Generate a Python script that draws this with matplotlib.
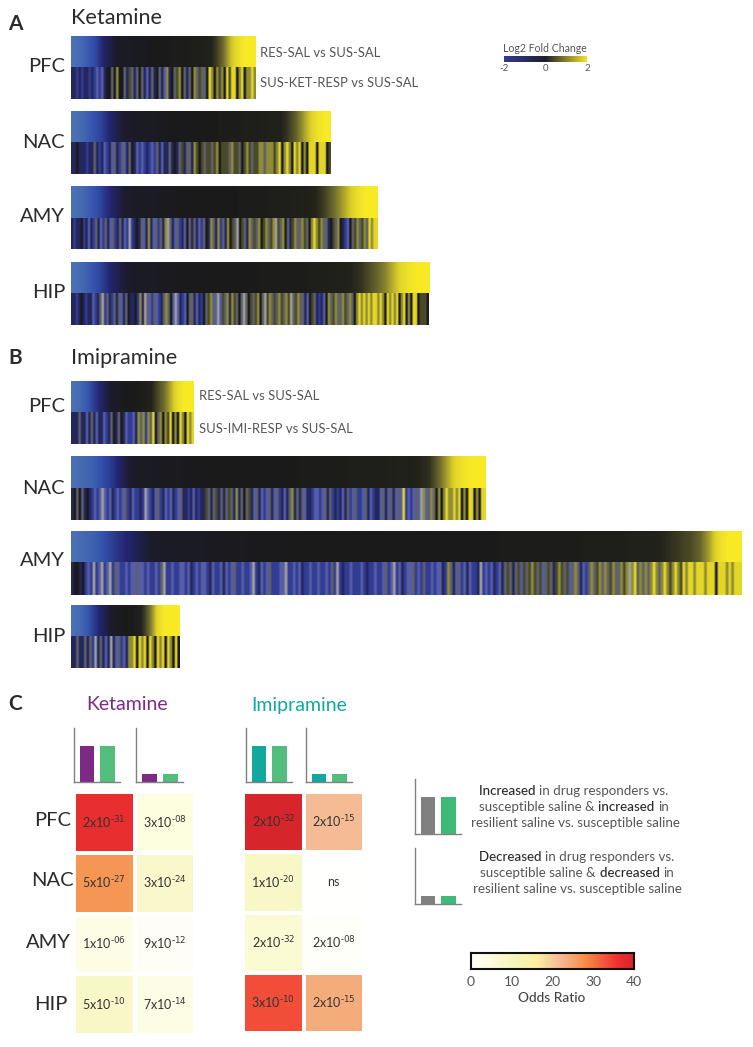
import matplotlib
matplotlib.use("Agg")
import matplotlib.pyplot as plt
from matplotlib.colors import LinearSegmentedColormap, ListedColormap
import numpy as np

W, H = 753, 1047
plt.rcParams["font.family"] = ["Lato", "DejaVu Sans"]
plt.rcParams["mathtext.default"] = "regular"

regions = ["PFC", "NAC", "AMY", "HIP"]

# top rows: log2 fold change, sorted
ket_pfc_top = [-2, -1.9, -1.7, -1.5, -1.1, -.8, -.5, -.4, -.3, -.2, -.2, -.1, 0, 0, .1, .1, .1, .2, .2, .3, .6, 1, 1.5, 1.8, 2, 2]
ket_nac_top = [-2, -1.9, -1.7, -1.5, -1.2, -.9, -.6, -.5, -.4, -.3, -.3, -.2, -.1, -.1, 0, 0, 0, 0, .1, .1, .1, .2, .2, .2, .3, .3, .5, .8, 1.2, 1.6, 1.9, 2]
ket_amy_top = [-2, -1.9, -1.7, -1.5, -1.2, -.9, -.6, -.5, -.4, -.3, -.3, -.2, -.2, -.1, -.1, 0, 0, 0, 0, 0, .1, .1, .1, .1, .2, .2, .2, .3, .3, .4, .6, .9, 1.2, 1.5, 1.8, 2, 2]
ket_hip_top = [-2, -1.9, -1.7, -1.5, -1.2, -.9, -.7, -.5, -.4, -.3, -.3, -.2, -.2, -.1, -.1, -.1, 0, 0, 0, 0, 0, 0, 0, .1, .1, .1, .1, .1, .1, .2, .2, .2, .3, .3, .4, .5, .7, .9, 1.1, 1.4, 1.7, 1.9, 2, 2]
imi_pfc_top = [-2, -1.9, -1.7, -1.4, -1.1, -.8, -.5, -.3, -.1, 0, .1, .2, .4, .7, 1, 1.4, 1.8, 2, 2]
imi_nac_top = [-2, -1.9, -1.8, -1.6, -1.4, -1.1, -.7, -.4, -.3, -.3, -.2, -.2, -.2, -.1, -.1, -.1, 0, 0, 0, 0, 0, 0, 0, 0, 0, 0, .1, .1, .1, .1, .1, .1, .2, .2, .2, .2, .2, .3, .3, .3, .4, .5, .9, 1.3, 1.7, 1.9, 2, 2]
imi_amy_top = [-2, -1.9, -1.8, -1.6, -1.4, -1.2, -1, -.8, -.6, -.5, -.4, -.4, -.3, -.3, -.3, -.2, -.2, -.2, -.2, -.1, -.1, -.1, -.1, -.1, 0, 0, 0, 0, 0, 0, 0, 0, 0, 0, 0, 0, 0, 0, 0, 0, 0, 0, 0, 0, 0, 0, .1, .1, .1, .1, .1, .1, .1, .1, .1, .2, .2, .2, .2, .2, .3, .3, .3, .4, .5, .6, .7, .9, 1.3, 1.8, 2, 2]
imi_hip_top = [-2, -1.9, -1.7, -1.4, -1.1, -.8, -.5, -.3, -.1, 0, .2, .6, 1.1, 1.7, 2, 2, 2]

# bottom rows: stripe colour level per gene block (see stripe_colors)
ket_pfc_bot = [1, 1, 2, 1, 2, 1, 1, 2, 1, 2, 3, 2, 3, 1, 0, 0, 4, 0, 6, 0, 0, 4, 1, 5, 4, 1, 4, 0, 4, 1, 3, 1, 4, 1, 0, 4, 1, 3, 6, 1, 0, 4, 5, 6, 0, 4, 1, 4, 0, 6, 4, 5, 4, 4, 0, 7, 6, 0, 6, 5, 6, 0, 7, 5, 7, 7, 0, 6, 7, 0, 6, 6, 7, 6]
ket_nac_bot = [1, 1, 0, 1, 1, 1, 2, 1, 1, 4, 1, 2, 1, 3, 2, 1, 3, 4, 1, 2, 4, 3, 1, 4, 0, 1, 3, 2, 3, 2, 1, 2, 3, 2, 4, 1, 3, 1, 1, 4, 1, 0, 1, 4, 5, 1, 4, 4, 1, 6, 5, 0, 5, 4, 5, 5, 4, 5, 6, 0, 5, 5, 5, 4, 6, 5, 5, 4, 0, 5, 6, 5, 4, 5, 5, 6, 6, 4, 6, 6, 6, 5, 6, 7, 0, 6, 7, 6, 0, 7, 6, 7, 0, 6, 0, 7, 7, 7, 0, 7, 7, 7, 0, 5]
ket_amy_bot = [1, 2, 1, 1, 0, 2, 1, 3, 1, 2, 4, 1, 3, 2, 4, 1, 3, 4, 2, 1, 4, 1, 3, 2, 8, 2, 1, 0, 1, 4, 3, 1, 6, 1, 3, 4, 2, 4, 1, 6, 8, 4, 1, 3, 4, 2, 1, 3, 0, 4, 1, 4, 1, 3, 2, 4, 0, 1, 6, 4, 1, 6, 2, 4, 1, 6, 0, 5, 4, 8, 0, 5, 4, 1, 6, 4, 5, 4, 6, 0, 5, 6, 4, 5, 6, 8, 5, 4, 6, 0, 4, 1, 5, 6, 4, 4, 6, 5, 4, 0, 6, 7, 6, 5, 6, 4, 4, 1, 0, 5, 4, 6, 0, 1, 2, 3, 0, 4, 5, 6, 4, 5, 6, 4, 7, 6, 7, 7]
ket_hip_bot = [1, 1, 2, 1, 0, 1, 2, 1, 1, 3, 2, 1, 4, 8, 2, 4, 1, 2, 4, 1, 4, 3, 1, 4, 0, 1, 1, 0, 2, 6, 1, 8, 4, 3, 2, 4, 3, 2, 1, 4, 6, 4, 0, 3, 8, 3, 1, 2, 3, 0, 4, 4, 1, 3, 1, 2, 0, 4, 5, 6, 4, 3, 8, 3, 5, 4, 6, 1, 6, 5, 4, 0, 4, 8, 4, 0, 5, 4, 5, 6, 0, 4, 8, 5, 6, 4, 5, 4, 6, 5, 4, 6, 5, 8, 4, 5, 6, 4, 4, 1, 3, 0, 5, 4, 1, 2, 1, 3, 0, 6, 4, 5, 6, 4, 4, 6, 5, 4, 6, 4, 0, 6, 7, 6, 7, 6, 7, 6, 7, 7, 6, 7, 6, 0, 7, 6, 7, 6, 7, 0, 6, 7, 0, 6, 0, 7, 7, 0, 5, 5, 5, 0]
imi_pfc_bot = [1, 1, 1, 4, 1, 1, 3, 1, 4, 1, 3, 1, 1, 3, 2, 1, 4, 0, 1, 4, 0, 1, 3, 2, 2, 3, 1, 6, 4, 6, 2, 6, 4, 7, 0, 4, 6, 0, 6, 5, 7, 0, 6, 0, 7, 6, 0, 7, 6, 7]
imi_nac_bot = [1, 0, 4, 0, 4, 1, 0, 1, 2, 3, 2, 3, 8, 3, 2, 3, 1, 2, 3, 2, 3, 4, 2, 1, 3, 2, 2, 1, 2, 8, 3, 2, 1, 3, 4, 2, 1, 3, 2, 3, 1, 2, 3, 4, 1, 1, 2, 1, 3, 1, 2, 1, 1, 5, 4, 1, 4, 5, 1, 4, 1, 4, 5, 4, 1, 6, 1, 4, 0, 4, 5, 1, 3, 4, 1, 3, 2, 3, 4, 1, 3, 4, 2, 1, 3, 1, 4, 6, 1, 4, 1, 4, 3, 1, 1, 2, 3, 3, 2, 3, 4, 1, 4, 2, 1, 2, 1, 3, 1, 4, 2, 3, 4, 2, 2, 3, 4, 1, 3, 2, 1, 1, 3, 4, 1, 3, 4, 1, 3, 4, 3, 7, 2, 3, 2, 3, 4, 3, 8, 6, 3, 4, 6, 4, 0, 6, 0, 6, 7, 6, 6, 7, 6, 7, 0, 6, 0, 7, 7, 0, 6, 0, 7, 7]
imi_amy_bot = [1, 0, 0, 1, 0, 2, 3, 2, 8, 2, 3, 8, 2, 3, 8, 2, 4, 3, 2, 2, 3, 2, 3, 3, 4, 3, 3, 2, 3, 2, 2, 3, 2, 4, 8, 2, 2, 3, 2, 2, 3, 3, 2, 3, 1, 2, 3, 2, 3, 3, 2, 1, 3, 2, 2, 3, 1, 3, 2, 3, 4, 2, 2, 3, 2, 2, 3, 8, 2, 1, 3, 2, 3, 4, 2, 2, 2, 3, 3, 8, 2, 2, 3, 2, 3, 1, 2, 2, 3, 2, 2, 3, 2, 2, 3, 2, 4, 2, 8, 2, 1, 2, 2, 3, 2, 2, 2, 3, 2, 1, 2, 2, 3, 2, 2, 3, 4, 2, 3, 8, 2, 3, 1, 2, 3, 3, 4, 2, 3, 2, 4, 2, 2, 3, 2, 3, 3, 1, 2, 6, 4, 1, 3, 4, 2, 3, 1, 3, 2, 2, 1, 8, 2, 3, 2, 3, 1, 2, 3, 1, 4, 5, 4, 1, 4, 5, 3, 5, 4, 5, 6, 5, 4, 5, 3, 4, 5, 4, 1, 5, 6, 5, 4, 5, 3, 4, 6, 4, 1, 3, 2, 4, 6, 4, 5, 6, 4, 6, 4, 5, 6, 4, 4, 6, 5, 6, 8, 6, 7, 4, 6, 4, 6, 4, 6, 7, 6, 4, 6, 7, 6, 5, 6, 7, 6, 5, 7, 6, 7, 7, 6, 7, 7, 7, 6, 7, 7, 7, 0, 7, 7, 7, 6, 7, 6, 7, 7, 7]
imi_hip_bot = [1, 1, 4, 1, 1, 4, 1, 4, 2, 8, 1, 4, 1, 3, 1, 8, 1, 3, 4, 2, 3, 1, 6, 6, 7, 0, 7, 6, 7, 0, 7, 6, 0, 7, 6, 7, 0, 7, 6, 0, 7, 0]

ket_top = [ket_pfc_top, ket_nac_top, ket_amy_top, ket_hip_top]
ket_bot = [ket_pfc_bot, ket_nac_bot, ket_amy_bot, ket_hip_bot]
imi_top = [imi_pfc_top, imi_nac_top, imi_amy_top, imi_hip_top]
imi_bot = [imi_pfc_bot, imi_nac_bot, imi_amy_bot, imi_hip_bot]

# odds ratios, rows = regions, cols = increased / decreased
ket_odds = [[37, 5], [27, 8], [4, 1.5], [9, 4]]
imi_odds = [[40, 22], [9, 0.3], [7, 1], [33.5, 24]]
ket_p = [["2x10$^{\\text{-31}}$", "3x10$^{\\text{-08}}$"], ["5x10$^{\\text{-27}}$", "3x10$^{\\text{-24}}$"],
         ["1x10$^{\\text{-06}}$", "9x10$^{\\text{-12}}$"], ["5x10$^{\\text{-10}}$", "7x10$^{\\text{-14}}$"]]
imi_p = [["2x10$^{\\text{-32}}$", "2x10$^{\\text{-15}}$"], ["1x10$^{\\text{-20}}$", "ns"],
         ["2x10$^{\\text{-32}}$", "2x10$^{\\text{-08}}$"], ["3x10$^{\\text{-10}}$", "2x10$^{\\text{-15}}$"]]

bar_high = [0.67, 0.67]
bar_low = [0.14, 0.14]

fold_cmap = LinearSegmentedColormap.from_list("fold", [
    (0, "#4a6fb5"), (0.1, "#3350ab"), (0.22, "#242570"), (0.35, "#1c1c2c"), (0.5, "#1a1a1a"),
    (0.6, "#24241c"), (0.75, "#747130"), (0.9, "#dcd02a"), (1, "#f8e925")])
stripe_colors = ["#1a1a1e", "#24275c", "#323c94", "#555ea6", "#60616a", "#4a4a2a", "#8f8c38", "#e4d626", "#a0a09c"]
stripe_cmap = ListedColormap(stripe_colors)
legend_cmap = LinearSegmentedColormap.from_list("legend", ["#38389a", "#1f1f2a", "#f4e428"])
odds_cmap = LinearSegmentedColormap.from_list("odds", [
    (0, "#ffffff"), (0.12, "#fdfde0"), (0.25, "#f6f5c0"), (0.4, "#fcf0a2"), (0.55, "#f5bb95"),
    (0.7, "#f68e47"), (0.9, "#ef3131"), (1, "#d7262b")])

dark = "#2b2b2b"
grey = "#555555"
purple = "#7c2a86"
teal = "#12a8a0"
green = "#52bd7c"
legend_green = "#3dba75"


def px_axes(fig, x0, y0, x1, y1):
    return fig.add_axes([x0 / W, 1 - y1 / H, (x1 - x0) / W, (y1 - y0) / H])


def put(fig, x, y, s, **kw):
    kw.setdefault("va", "center")
    kw.setdefault("color", dark)
    return fig.text(x / W, 1 - y / H, s, **kw)


def heat_block(fig, box, top, bottom):
    x0, y0, ym, x1, y1 = box
    ax = px_axes(fig, x0, y0, x1, ym)
    ax.imshow(np.array([top]), cmap=fold_cmap, vmin=-2, vmax=2, aspect="auto", interpolation="bilinear")
    ax.axis("off")
    ax = px_axes(fig, x0, ym, x1, y1)
    # blur in colour space, not on the level codes
    ax.imshow(np.array([bottom]), cmap=stripe_cmap, vmin=-0.5, vmax=8.5, aspect="auto",
              interpolation="hanning", interpolation_stage="rgba")
    ax.axis("off")


def mini_bars(fig, box, values, colors):
    x0, y0, x1, y1 = box
    ax = px_axes(fig, x0, y0, x1, y1)
    ax.bar([0, 1], values, width=0.7, color=colors)
    ax.set_xlim(-0.62, 1.6)
    ax.set_ylim(0, 1)
    ax.set_xticks([])
    ax.set_yticks([])
    ax.spines[["top", "right"]].set_visible(False)
    ax.spines[["left", "bottom"]].set_color("#808080")
    ax.spines[["left", "bottom"]].set_linewidth(1)
    ax.patch.set_alpha(0)


def odds_grid(fig, box, odds, labels):
    x0, y0, x1, y1 = box
    ax = px_axes(fig, x0, y0, x1, y1)
    ax.pcolormesh(odds, cmap=odds_cmap, vmin=0, vmax=40, edgecolors="white", linewidth=2.6)
    ax.set_ylim(4, 0)
    ax.axis("off")
    for r, row in enumerate(labels):
        for c, s in enumerate(row):
            ax.text(c + 0.5, r + 0.5, s, ha="center", va="center", fontsize=9, color="#333333")


def run_line(fig, cx, y, runs, size=9.6):
    # mixed weight line, centred on cx
    r = fig.canvas.get_renderer()
    pieces = []
    total = 0
    for s, weight, col in runs:
        t = put(fig, 0, y, s, fontsize=size, fontweight=weight, color=col)
        w = t.get_window_extent(r).width
        pieces.append((t, w))
        total += w
    x = cx - total / 2
    for t, w in pieces:
        t.set_x(x / W)
        x += w


fig = plt.figure(figsize=(W / 100, H / 100), dpi=100)

put(fig, 8, 24, "A", fontsize=15, fontweight="bold")
put(fig, 8, 358, "B", fontsize=15, fontweight="bold")
put(fig, 8, 704, "C", fontsize=15, fontweight="bold")
put(fig, 71, 17.5, "Ketamine", fontsize=15.6)
put(fig, 71, 358.5, "Imipramine", fontsize=15.6)

ket_boxes = [(71, 36, 67, 256, 99), (71, 111, 142, 330, 174), (71, 186, 218, 378, 249), (71, 262, 293, 429, 325)]
imi_boxes = [(71, 381, 412, 194, 444), (71, 456, 488, 486, 520), (71, 531, 562, 742, 595), (71, 605, 636, 180, 668)]
ket_label_y = [67, 142, 217, 293]
imi_label_y = [406, 488, 560, 637]

for i, name in enumerate(regions):
    heat_block(fig, ket_boxes[i], ket_top[i], ket_bot[i])
    heat_block(fig, imi_boxes[i], imi_top[i], imi_bot[i])
    put(fig, 65, ket_label_y[i], name, fontsize=14.5, ha="right")
    put(fig, 65, imi_label_y[i], name, fontsize=14.5, ha="right")

put(fig, 260, 53, "RES-SAL vs SUS-SAL", fontsize=9.4, color=grey)
put(fig, 260, 83, "SUS-KET-RESP vs SUS-SAL", fontsize=9.4, color=grey)
put(fig, 199, 396, "RES-SAL vs SUS-SAL", fontsize=9.4, color=grey)
put(fig, 199, 429, "SUS-IMI-RESP vs SUS-SAL", fontsize=9.4, color=grey)

# fold change legend
cax = px_axes(fig, 504, 56, 587, 62)
cax.imshow(np.linspace(-2, 2, 256)[None, :], cmap=legend_cmap, aspect="auto", extent=[-2, 2, 0, 1])
cax.set_yticks([])
cax.set_xticks([-2, 0, 2], ["-2", "0", "2"])
cax.tick_params(length=0, labelsize=7, labelcolor=grey, pad=1.5)
for s in cax.spines.values():
    s.set_visible(False)
put(fig, 544.5, 48.5, "Log2 Fold Change", fontsize=7.6, color=grey, ha="center")

# panel C
put(fig, 127, 705, "Ketamine", fontsize=14, color=purple, ha="center")
put(fig, 299, 705, "Imipramine", fontsize=14, color=teal, ha="center")

mini_bars(fig, (74, 728, 120, 782), bar_high, [purple, green])
mini_bars(fig, (136, 728, 183, 782), bar_low, [purple, green])
mini_bars(fig, (246, 728, 292, 782), bar_high, [teal, green])
mini_bars(fig, (306, 728, 352, 782), bar_low, [teal, green])

odds_grid(fig, (74, 792, 195, 1035), ket_odds, ket_p)
odds_grid(fig, (243, 792, 364, 1033), imi_odds, imi_p)

ket_c_right = [71, 74, 71, 67]
ket_c_y = [820, 881, 943, 1005]
for i, name in enumerate(regions):
    put(fig, ket_c_right[i], ket_c_y[i], name, fontsize=14.5, ha="right")

# explanation at the right
mini_bars(fig, (415, 779, 461, 834), bar_high, ["#808080", legend_green])
mini_bars(fig, (415, 848, 461, 904), bar_low, ["#808080", legend_green])

fig.canvas.draw()
run_line(fig, 574, 791, [("Increased ", "medium", dark), ("in drug responders vs.", "normal", grey)])
run_line(fig, 574, 807, [("susceptible saline & ", "normal", grey), ("increased ", "medium", dark), ("in", "normal", grey)])
run_line(fig, 575, 823, [("resilient saline vs. susceptible saline", "normal", grey)])
run_line(fig, 577, 857, [("Decreased ", "medium", dark), ("in drug responders vs.", "normal", grey)])
run_line(fig, 577, 873, [("susceptible saline & ", "normal", grey), ("decreased ", "medium", dark), ("in", "normal", grey)])
run_line(fig, 577, 889, [("resilient saline vs. susceptible saline", "normal", grey)])

# odds ratio colour bar
oax = px_axes(fig, 471, 953, 634, 969)
oax.imshow(np.linspace(0, 40, 256)[None, :], cmap=odds_cmap, vmin=0, vmax=40, aspect="auto", extent=[0, 40, 0, 1])
oax.set_yticks([])
oax.set_xticks([0, 10, 20, 30, 40])
oax.tick_params(length=0, labelsize=10, labelcolor=grey, pad=5)
for s in oax.spines.values():
    s.set_linewidth(1.5)
    s.set_color("#111111")
put(fig, 552, 998, "Odds Ratio", fontsize=9.8, ha="center", color="#444444", fontweight="medium")

fig.savefig("out.png", dpi=100)
